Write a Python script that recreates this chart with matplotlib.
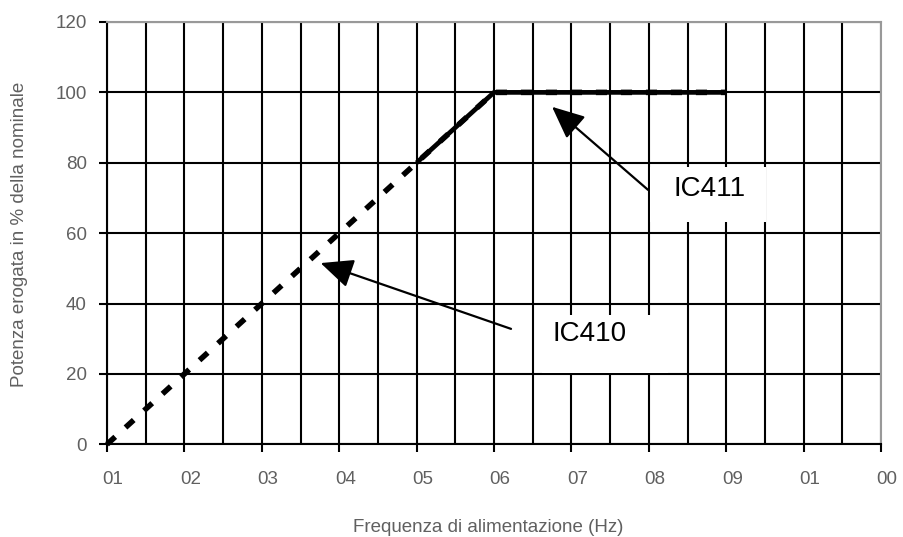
import matplotlib
matplotlib.use("Agg")
import matplotlib.pyplot as plt
from matplotlib.patches import Rectangle, FancyArrowPatch
from matplotlib.transforms import ScaledTranslation
from matplotlib.ticker import MultipleLocator

plt.rcParams['font.family'] = ['Liberation Sans', 'DejaVu Sans']
plt.rcParams['lines.scale_dashes'] = False

# ---- data ----
x_tick_labels = ["01", "02", "03", "04", "05", "06", "07", "08", "09", "01", "00"]
y_ticks = [0, 20, 40, 60, 80, 100, 120]

ic410_x = [0, 1, 2, 3, 4, 5, 6, 7, 8]
ic410_values = [0, 20, 40, 60, 80, 100, 100, 100, 100]

ic411_x = [4, 5, 6, 7, 8]
ic411_values = [80, 100, 100, 100, 100]

x_label = "Frequenza di alimentazione (Hz)"
y_label = "Potenza erogata in % della nominale"

# ---- figure ----
fig = plt.figure(figsize=(9.04, 5.37), dpi=100)
ax = fig.add_axes([107/904, 1-444.3/537, 774/904, 422.3/537])

ax.set_xlim(0, len(x_tick_labels) - 1)
ax.set_ylim(0, 120)

ax.set_xticks(range(len(x_tick_labels)))
ax.set_xticklabels(x_tick_labels)
ax.xaxis.set_minor_locator(MultipleLocator(0.5))
ax.set_yticks(y_ticks)
ax.set_yticklabels([str(v) for v in y_ticks])

ax.grid(True, which='both', axis='x', color='black', lw=1.5)
ax.grid(True, which='major', axis='y', color='black', lw=1.5)
ax.set_axisbelow(True)

ax.tick_params(axis='x', which='major', length=5.5, width=1.5, color='black',
               pad=14, labelsize=13.5, labelcolor='#606060')
ax.tick_params(axis='x', which='minor', length=0)
ax.tick_params(axis='y', which='major', length=6, width=1.5, color='black',
               pad=8.5, labelsize=13.5, labelcolor='#606060')

for lab in ax.get_xticklabels():
    lab.set_transform(lab.get_transform() + ScaledTranslation(6/100, 0, fig.dpi_scale_trans))

for s in ['left', 'bottom']:
    ax.spines[s].set_color('black')
    ax.spines[s].set_linewidth(1.5)
for s in ['top', 'right']:
    ax.spines[s].set_color('#999999')
    ax.spines[s].set_linewidth(1.5)

# series
ax.plot(ic410_x, ic410_values, color='black', lw=4.0, dashes=(8, 10),
        solid_capstyle='butt', dash_capstyle='butt', zorder=3, clip_on=False)
ax.plot(ic411_x, ic411_values, color='black', lw=3.4, solid_capstyle='butt',
        zorder=4, clip_on=False)

# annotation boxes
ax.add_patch(Rectangle((7.02, 63.2), 1.49, 15.6, facecolor='white',
                       edgecolor='none', zorder=2))
ax.text(7.79, 72.6, "IC411", fontsize=20, ha='center', va='center', color='black', zorder=5)
ax.add_patch(Rectangle((5.62, 20.2), 1.63, 16.6, facecolor='white',
                       edgecolor='none', zorder=2))
ax.text(6.23, 31.4, "IC410", fontsize=20, ha='center', va='center', color='black', zorder=5)

# arrows
for tail, tip in [((6.99, 72.3), (5.75, 95.9)), ((5.22, 32.8), (2.76, 51.5))]:
    arr = FancyArrowPatch(tail, tip, arrowstyle='-|>,head_length=20,head_width=9',
                          mutation_scale=1, color='black', lw=1.6, zorder=5,
                          shrinkA=0, shrinkB=0)
    ax.add_patch(arr)

# axis labels
fig.text(20/904, 1-234/537, y_label, rotation=90, ha='center', va='center',
         fontsize=13.5, color='#606060')
fig.text(488/904, 1-532/537, x_label, ha='center', va='baseline',
         fontsize=13.5, color='#606060')

# clipped legend fragments at right edge (as in the reference)
for i, t in enumerate(["IC410", "IC411", "n"]):
    fig.text(902/904, 1-(30 + i*23)/537, t, ha='left', va='center',
             fontsize=13, color='#606060')

fig.savefig("out.png", dpi=100)
